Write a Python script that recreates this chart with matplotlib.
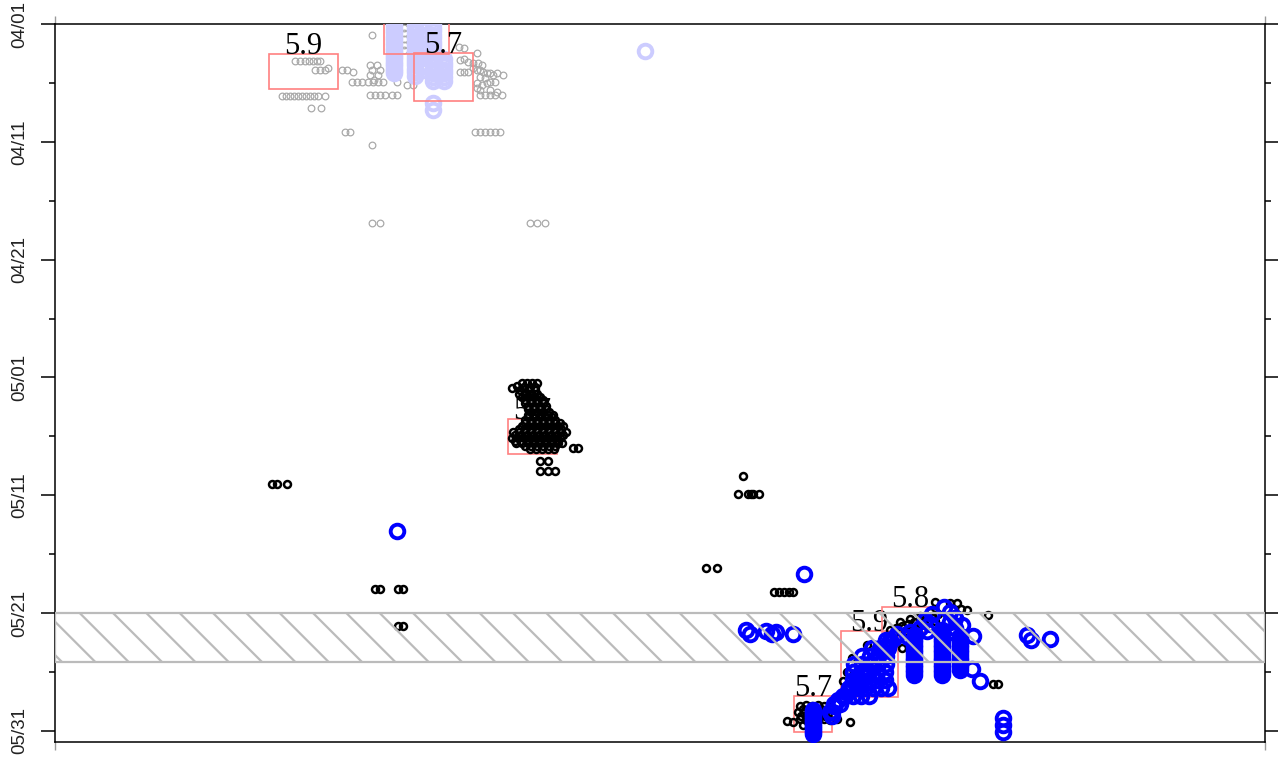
import matplotlib.pyplot as plt
from matplotlib.patches import Rectangle

# y values are days after 04/01, x is a plain position index (0-121)
date_ticks = [0, 10, 20, 30, 40, 50, 60]
date_minor = [5, 15, 25, 35, 45, 55]
date_labels = ['04/01', '04/11', '04/21', '05/01', '05/11', '05/21', '05/31']
band_days = (50.0, 54.2)

# boxes: x0, x1, top day, bottom day, label (the one cut off at the top shows none)
box_x0 = [21.4, 32.9, 35.9, 45.3, 73.9, 78.6, 82.7]
box_x1 = [28.3, 39.4, 41.8, 50.2, 77.7, 84.3, 88.4]
box_top = [2.55, -1.0, 2.45, 33.55, 57.05, 51.55, 49.5]
box_bot = [5.5, 2.55, 6.55, 36.5, 60.1, 57.15, 51.6]
box_labels = ['5.9', '', '5.7', '5.7', '5.7', '5.9', '5.8']

gray_pts = [
    (24.0, 3.1), (24.5, 3.1), (25.0, 3.1), (25.4, 3.1), (25.8, 3.1), (26.2, 3.1), (26.5, 3.1),
    (26.0, 3.9), (26.5, 3.9), (27.0, 3.9), (27.3, 3.75),
    (22.7, 6.15), (23.1, 6.15), (23.5, 6.15), (23.9, 6.15), (24.3, 6.15), (24.7, 6.15),
    (25.1, 6.15), (25.5, 6.15), (25.9, 6.15), (26.3, 6.15), (27.0, 6.15),
    (25.6, 7.1), (26.6, 7.1),
    (28.7, 3.9), (29.2, 3.9), (29.8, 4.1),
    (29.7, 4.9), (30.2, 4.9), (30.7, 4.9), (31.3, 4.9), (31.8, 4.9), (32.3, 4.9), (32.8, 4.9),
    (31.7, 0.95),
    (31.5, 3.5), (32.2, 3.5), (31.7, 3.9), (32.5, 3.9), (31.5, 4.3), (32.3, 4.3), (31.9, 4.75),
    (31.5, 6.0), (32.0, 6.0), (32.5, 6.0), (33.0, 6.0), (33.7, 6.0), (34.2, 6.0),
    (34.2, 4.9), (35.2, 5.2), (35.8, 5.2),
    (34.9, 0.3), (34.9, 0.8), (34.9, 1.3), (34.9, 1.8), (34.9, 2.2),
    (40.4, 1.95), (40.9, 2.05), (42.2, 2.45), (40.5, 3.05), (40.9, 2.95), (41.3, 3.2),
    (41.8, 3.3), (42.3, 3.3), (42.7, 3.5), (40.5, 4.05), (40.9, 4.05), (41.3, 4.05),
    (41.8, 3.75), (42.2, 3.9), (42.5, 3.9), (42.8, 4.05), (43.2, 4.15), (43.5, 4.15),
    (43.8, 4.35), (44.2, 4.15), (44.8, 4.35), (42.5, 4.5), (43.0, 4.6), (43.5, 4.9),
    (44.0, 4.9), (42.2, 5.0), (42.7, 5.2), (43.2, 5.0), (42.2, 5.45), (42.5, 5.6),
    (43.5, 5.6), (44.2, 5.75), (42.5, 6.0), (43.0, 6.0), (43.5, 6.0), (44.0, 6.0), (44.7, 6.0),
    (29.0, 9.15), (29.5, 9.15), (42.0, 9.15), (42.5, 9.15), (43.0, 9.15), (43.5, 9.15),
    (44.0, 9.15), (44.5, 9.15),
    (31.7, 10.25),
    (31.7, 16.9), (32.5, 16.9), (47.5, 16.9), (48.2, 16.9), (49.0, 16.9),
]

lightblue_pts = [
    (33.9, 0.0), (33.9, 0.2), (33.9, 0.4), (33.9, 0.6), (33.9, 0.8), (33.9, 1.0), (33.9, 1.2),
    (33.9, 1.4), (33.9, 1.6), (33.9, 1.8), (33.9, 2.0), (33.9, 2.2), (33.9, 2.4), (33.9, 2.6),
    (33.9, 2.8), (33.9, 3.0), (33.9, 3.2), (33.9, 3.4), (33.9, 3.6), (33.9, 3.8), (33.9, 4.0),
    (33.9, 4.2),
    (36.0, 0.0), (36.0, 0.3), (36.0, 0.5), (36.0, 0.8), (36.0, 1.1), (36.0, 1.3), (36.0, 1.6),
    (36.0, 1.9), (36.0, 2.2), (36.0, 2.4), (36.0, 2.7), (36.0, 3.0), (36.0, 3.2), (36.0, 3.5),
    (36.0, 3.8), (36.0, 4.1), (36.0, 4.4),
    (36.8, 0.1), (36.8, 0.5), (36.8, 0.9), (36.8, 1.3), (36.8, 1.7), (36.8, 2.1), (36.8, 2.5),
    (36.8, 2.9), (36.8, 3.3), (36.8, 3.6), (36.8, 3.9),
    (37.8, 0.0), (37.8, 0.3), (37.8, 0.6), (37.8, 0.9), (37.8, 1.2), (37.8, 1.5), (37.8, 1.8),
    (37.8, 2.1), (37.8, 2.4), (37.8, 2.7), (37.8, 3.0), (37.8, 3.3), (37.8, 3.6), (37.8, 3.9),
    (37.8, 4.2), (37.8, 4.5), (37.8, 4.8),
    (38.9, 3.0), (38.9, 3.3), (38.9, 3.6), (38.9, 3.9), (38.9, 4.2), (38.9, 4.5), (38.9, 4.8),
    (37.8, 6.7), (37.8, 7.3),
    (59.0, 2.3),
]

black_pts = [
    (21.7, 39.05), (22.2, 39.05), (23.2, 39.05),
    (32.0, 47.95), (32.5, 47.95), (34.3, 47.95), (34.8, 47.95),
    (34.3, 51.1), (34.8, 51.1),
    # cluster around 05/05
    (46.7, 30.5), (47.2, 30.5), (47.7, 30.5), (48.2, 30.5), (46.2, 30.7), (45.7, 30.9),
    (46.9, 30.8), (47.5, 30.8), (48.0, 30.8),
    (46.5, 31.05), (47.3, 31.05), (48.0, 31.05),
    (46.4, 31.4), (47.0, 31.4), (47.6, 31.4), (48.2, 31.4),
    (46.7, 31.7), (47.3, 31.7), (47.9, 31.7), (48.5, 31.7),
    (47.0, 31.9), (47.6, 31.9), (48.2, 31.9), (48.8, 31.9),
    (47.0, 32.15), (47.6, 32.15), (48.2, 32.15), (48.8, 32.15),
    (47.3, 32.4), (47.9, 32.4), (48.5, 32.4), (49.1, 32.4),
    (47.3, 32.65), (47.9, 32.65), (48.5, 32.65), (49.1, 32.65),
    (47.6, 32.9), (48.2, 32.9), (48.8, 32.9), (49.4, 32.9),
    (47.3, 33.15), (48.0, 33.15), (48.6, 33.15), (49.3, 33.15), (49.8, 33.15),
    (47.3, 33.4), (47.9, 33.4), (48.5, 33.4), (49.1, 33.4), (49.7, 33.4),
    (47.0, 33.65), (47.6, 33.65), (48.2, 33.65), (48.8, 33.65), (49.4, 33.65), (50.0, 33.65),
    (47.0, 33.9), (47.6, 33.9), (48.2, 33.9), (48.8, 33.9), (49.4, 33.9), (50.0, 33.9),
    (50.5, 33.9),
    (46.7, 34.15), (47.3, 34.15), (47.9, 34.15), (48.5, 34.15), (49.1, 34.15), (49.7, 34.15),
    (50.3, 34.15), (50.8, 34.15),
    (46.4, 34.4), (47.0, 34.4), (47.6, 34.4), (48.2, 34.4), (48.8, 34.4), (49.4, 34.4),
    (50.0, 34.4), (50.6, 34.4),
    (45.8, 34.65), (46.4, 34.65), (47.0, 34.65), (47.6, 34.65), (48.2, 34.65), (48.8, 34.65),
    (49.4, 34.65), (50.0, 34.65), (50.6, 34.65), (51.1, 34.65),
    (46.0, 34.9), (46.6, 34.9), (47.2, 34.9), (47.8, 34.9), (48.4, 34.9), (49.0, 34.9),
    (49.6, 34.9), (50.2, 34.9), (50.8, 34.9),
    (45.7, 35.15), (46.3, 35.15), (46.9, 35.15), (47.5, 35.15), (48.1, 35.15), (48.7, 35.15),
    (49.3, 35.15), (49.9, 35.15), (50.5, 35.15),
    (46.0, 35.4), (46.6, 35.4), (47.2, 35.4), (47.8, 35.4), (48.4, 35.4), (49.0, 35.4),
    (49.6, 35.4), (50.2, 35.4),
    (46.1, 35.6), (46.7, 35.6), (47.3, 35.6), (47.9, 35.6), (48.5, 35.6), (49.1, 35.6),
    (49.7, 35.6), (50.3, 35.6), (50.7, 35.6),
    (47.0, 35.85), (47.6, 35.85), (48.2, 35.85), (48.8, 35.85), (49.4, 35.85), (50.0, 35.85),
    (47.5, 36.1), (48.1, 36.1), (48.7, 36.1), (49.3, 36.1), (49.9, 36.1),
    (51.8, 36.0), (52.3, 36.0),
    (48.5, 37.1), (49.3, 37.1), (48.5, 37.95), (49.3, 37.95), (50.0, 37.95),
    # mid-May scatter
    (68.8, 38.37), (68.3, 39.9), (69.3, 39.9), (69.6, 39.9), (69.8, 39.9), (70.4, 39.9),
    (65.1, 46.2), (66.2, 46.2),
    (71.9, 48.2), (72.4, 48.2), (72.9, 48.2), (73.4, 48.2), (73.8, 48.2),
    # late-May cluster
    (74.5, 57.9), (75.1, 57.8), (75.7, 57.9), (76.3, 57.8), (76.9, 57.9), (77.5, 58.0),
    (74.8, 58.15), (75.4, 58.15), (76.0, 58.15), (76.6, 58.15), (77.2, 58.2),
    (74.3, 58.4), (74.9, 58.5), (75.5, 58.4), (76.1, 58.5), (76.7, 58.4), (77.3, 58.5),
    (74.6, 58.75), (75.2, 58.75), (75.8, 58.75), (76.4, 58.75), (77.0, 58.75),
    (74.5, 59.0), (75.1, 59.1), (75.7, 59.0), (76.3, 59.1), (76.9, 59.0), (77.5, 59.1),
    (74.8, 59.5), (75.4, 59.5), (73.2, 59.15), (73.8, 59.25), (79.5, 59.25), (78.2, 59.0),
    (79.2, 55.0), (78.8, 55.8), (79.7, 53.8), (81.2, 52.7), (84.7, 52.95), (90.5, 53.1),
    (83.5, 51.45), (84.1, 51.3), (84.7, 51.1), (85.3, 50.95), (85.9, 50.75), (86.5, 50.6),
    (87.1, 50.4), (87.7, 50.25), (88.3, 50.1), (84.0, 51.6), (85.0, 51.5), (86.0, 51.25),
    (87.0, 51.0), (88.0, 50.7), (84.5, 50.75), (85.5, 50.5), (86.5, 50.25), (87.5, 49.9),
    (88.0, 49.05), (89.5, 49.15), (90.2, 49.15), (90.6, 49.65), (91.2, 49.75), (93.3, 50.2),
    (93.8, 56.0), (94.3, 56.0),
]

blue_pts = [
    (34.2, 43.05), (74.9, 46.7),
    (69.1, 51.45), (69.5, 51.8), (71.1, 51.5), (71.7, 51.8), (72.1, 51.6), (73.8, 51.8),
    (97.2, 51.9), (97.6, 52.3), (99.5, 52.2),
    (94.8, 58.9), (94.8, 59.5), (94.8, 60.1),
    (75.8, 58.23), (75.8, 58.4), (75.8, 58.57), (75.8, 58.75), (75.8, 58.91), (75.8, 59.1),
    (75.8, 59.25), (75.8, 59.4), (75.8, 59.59), (75.8, 59.75), (75.8, 59.93), (75.8, 60.1),
    (75.8, 60.27),
    (77.5, 58.4), (77.7, 58.75), (77.9, 57.9), (78.3, 57.4), (78.8, 57.05), (79.3, 56.7),
    (79.7, 56.35), (80.1, 56.0), (80.3, 55.5), (80.7, 55.2), (81.1, 54.85), (81.5, 54.3),
    (81.9, 54.0), (82.3, 53.65), (82.7, 53.15), (83.1, 52.8), (83.5, 52.45), (83.9, 52.1),
    (84.2, 51.8),
    (83.1, 52.3), (83.5, 52.3),
    (81.7, 52.97), (82.5, 52.97), (83.3, 52.97),
    (80.7, 53.65), (81.5, 53.65), (82.3, 53.65), (83.1, 53.65),
    (79.9, 54.33), (80.7, 54.33), (81.5, 54.33), (82.3, 54.33), (83.1, 54.33),
    (79.8, 55.0), (80.6, 55.0), (81.4, 55.0), (82.2, 55.0), (83.0, 55.0),
    (79.8, 55.7), (80.6, 55.7), (81.4, 55.7), (82.2, 55.7), (83.0, 55.7),
    (79.4, 56.37), (80.2, 56.37), (81.0, 56.37), (81.8, 56.37), (82.6, 56.37), (83.3, 56.37),
    (79.0, 57.05), (79.8, 57.05), (80.6, 57.05), (81.4, 57.05),
    (77.9, 57.73), (78.5, 57.73), (77.7, 58.4),
    (85.9, 52.29), (85.9, 52.5), (85.9, 52.72), (85.9, 52.9), (85.9, 53.14), (85.9, 53.35),
    (85.9, 53.57), (85.9, 53.8), (85.9, 53.99), (85.9, 54.2), (85.9, 54.41), (85.9, 54.6),
    (85.9, 54.84), (85.9, 55.05), (85.9, 55.26),
    (88.7, 51.44), (88.7, 51.65), (88.7, 51.87), (88.7, 52.1), (88.7, 52.29), (88.7, 52.5),
    (88.7, 52.72), (88.7, 52.9), (88.7, 53.14), (88.7, 53.35), (88.7, 53.57), (88.7, 53.8),
    (88.7, 53.99), (88.7, 54.2), (88.7, 54.41), (88.7, 54.6), (88.7, 54.84), (88.7, 55.05),
    (88.7, 55.26),
    (90.5, 51.95), (90.5, 52.1), (90.5, 52.29), (90.5, 52.5), (90.5, 52.72), (90.5, 52.9),
    (90.5, 53.14), (90.5, 53.35), (90.5, 53.57), (90.5, 53.8), (90.5, 53.99), (90.5, 54.2),
    (90.5, 54.41), (90.5, 54.6), (90.5, 54.84),
    (91.7, 54.75), (92.5, 55.8),
    (87.0, 50.6), (87.7, 50.1), (88.9, 49.5), (89.5, 49.9), (90.0, 50.4), (90.7, 51.0),
    (91.8, 51.95),
    (85.5, 51.6), (86.5, 51.3), (87.5, 50.95), (89.5, 50.75), (90.0, 51.25),
    (86.0, 51.9), (87.2, 51.5), (89.8, 51.6), (85.3, 52.0),
]

plt.rcParams['font.family'] = ['Liberation Sans', 'DejaVu Sans']
plt.rcParams['hatch.linewidth'] = 1.6

fig = plt.figure(figsize=(12.78, 7.64), dpi=100)
ax = fig.add_axes([55 / 1278, 22 / 764, 1210 / 1278, 718 / 764])

# boxes with their magnitude labels
for x0, x1, t, b, lab in zip(box_x0, box_x1, box_top, box_bot, box_labels):
    ax.add_patch(Rectangle((x0, t), x1 - x0, b - t, fill=False,
                           edgecolor='#ff8080', lw=1.2, zorder=3.15))
    if lab:
        ax.text((x0 + x1) / 2, t, lab, ha='center', va='baseline', fontsize=22,
                family='Liberation Serif', zorder=3.15)

gx, gy = zip(*gray_pts)
ax.plot(gx, gy, 'o', ls='none', mfc='none', mec='#aaaaaa', ms=4.8, mew=0.9, zorder=3)

lx, ly = zip(*lightblue_pts)
ax.plot(lx, ly, 'o', ls='none', mfc='none', mec='#ccccff', ms=9.8, mew=2.8, zorder=3.1)

kx, ky = zip(*black_pts)
ax.plot(kx, ky, 'o', ls='none', mfc='none', mec='black', ms=5.0, mew=1.8, zorder=3.2)

bx, by = zip(*blue_pts)
ax.plot(bx, by, 'o', ls='none', mfc='none', mec='#0000ff', ms=9.8, mew=2.8, zorder=3.3)

# hatched band
ax.axhspan(band_days[0], band_days[1], facecolor='none', edgecolor='#bbbbbb',
           hatch='\\', lw=1.6, zorder=4)

ax.set_xlim(0, 121)
ax.set_ylim(60.95, 0)

ax.set_yticks(date_ticks, date_labels)
ax.set_yticks(date_minor, minor=True)
ax.tick_params(axis='y', which='major', direction='out', length=10, width=1.1,
               left=True, right=True, labelsize=13.5, pad=9, labelcolor='#222222')
ax.tick_params(axis='y', which='minor', direction='out', length=4.5, width=1.1,
               left=True, right=True)
plt.setp(ax.get_yticklabels(), rotation=90, va='center')

ax.set_xticks([0, 121], ['', ''])
ax.tick_params(axis='x', direction='out', length=6, width=1.0, color='#999999',
               top=True, bottom=True, labelbottom=False)

for s in ax.spines.values():
    s.set_linewidth(1.1)

fig.savefig('out.png', dpi=100)
